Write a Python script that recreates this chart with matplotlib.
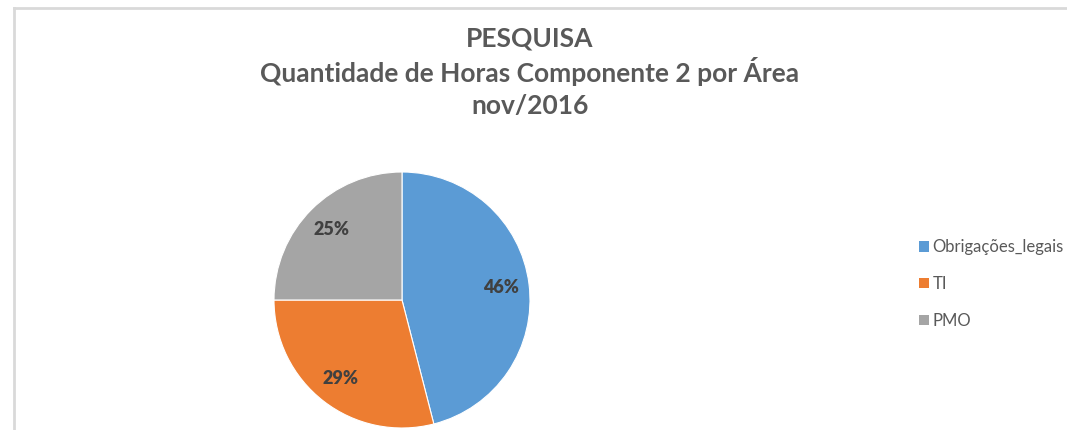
import matplotlib.pyplot as plt
from matplotlib.lines import Line2D
from matplotlib.patches import Patch

plt.rcParams["font.family"] = ["Lato", "DejaVu Sans"]

# Data
areas = ["Obrigações_legais", "TI", "PMO"]
shares = [46, 29, 25]
colors = ["#5B9BD5", "#ED7D31", "#A5A5A5"]
title_lines = ["PESQUISA", "Quantidade de Horas Componente 2 por Área", "nov/2016"]

W, H = 1067, 430
fig = plt.figure(figsize=(W / 100, H / 100), dpi=100)
fig.patch.set_facecolor("white")

# chart frame (left and top edges visible)
frame_color = "#D9D9D9"
fig.add_artist(Line2D([13.5 / W, 13.5 / W], [0, 1 - 7.5 / H], color=frame_color, lw=2,
                      transform=fig.transFigure))
fig.add_artist(Line2D([13.5 / W, 1], [1 - 7.5 / H, 1 - 7.5 / H], color=frame_color, lw=2,
                      transform=fig.transFigure))

# pie: center (402, 300) px, radius 128 px
cx, cy, r = 402, 300, 128
ax = fig.add_axes([(cx - r) / W, (H - cy - r) / H, 2 * r / W, 2 * r / H])
wedges, texts, autotexts = ax.pie(
    shares,
    colors=colors,
    startangle=90,
    counterclock=False,
    radius=1,
    autopct="%1.0f%%",
    pctdistance=0.78,
    wedgeprops={"edgecolor": "white", "linewidth": 0.8},
    textprops={"fontsize": 13, "fontweight": "heavy", "color": "#404040"},
)
ax.set_xlim(-1, 1)
ax.set_ylim(-1, 1)
ax.set_aspect("equal")
ax.axis("off")

# title
for i, line in enumerate(title_lines):
    fig.text(530 / W, 1 - (38 + i * 34) / H, line, ha="center", va="center",
             fontsize=19, fontweight="bold", color="#595959")

handles = [Patch(facecolor=c, edgecolor="none") for c in colors]
fig.legend(handles, areas, loc="center left", bbox_to_anchor=(904 / W, 1 - 284 / H),
           frameon=False, fontsize=12, labelcolor="#595959",
           handlelength=0.6, handleheight=0.6, handletextpad=0.2,
           labelspacing=1.25)

plt.savefig("out.png", dpi=100)
plt.close()
